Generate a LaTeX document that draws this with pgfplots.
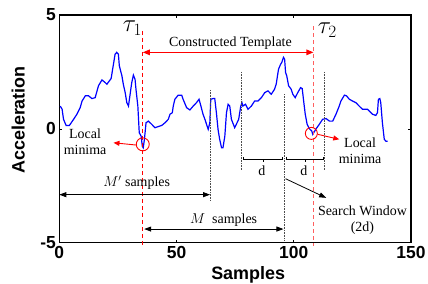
\documentclass[border=0pt]{standalone}
\usepackage{fontspec}
\setmainfont{Liberation Serif}
\setsansfont{Liberation Sans}
\usepackage{pgfplots}
\pgfplotsset{compat=1.18}
\usetikzlibrary{arrows.meta}
\definecolor{pinkred}{RGB}{255,95,95}
\tikzset{ann/.style={font=\fontsize{14}{16}\selectfont, inner sep=1bp}}
\begin{document}
\begin{tikzpicture}
\begin{axis}[
 scale only axis, width=351.7bp, height=227.7bp,
 xmin=0,xmax=150,ymin=-5,ymax=5,
 xtick={0,50,100,150}, xticklabels={0,50,100,150},
 ytick={-5,0,5}, yticklabels={-5,0,5},
 tick align=inside, major tick length=3bp,
 tick label style={font=\fontsize{17.5}{17.5}\selectfont\sffamily\bfseries},
 axis line style={line width=1.1bp},
 tick style={line width=0.6bp,black},
 xlabel={Samples}, ylabel={Acceleration},
 label style={font=\fontsize{18}{18}\selectfont\sffamily\bfseries},
 xlabel style={at={(axis description cs:0.537,-0.162)},anchor=base},
 ylabel style={at={(axis description cs:-0.117,0.539)},anchor=center},
 clip=false,
]
% signal
\addplot[blue, line width=1.2bp] coordinates {
(0.4,1.0)(1.2,0.86)(1.8,0.42)(2.9,0.15)(4.3,0.15)(6.1,0.42)(7.5,0.64)(8.9,0.93)(9.7,1.22)(11.1,1.45)(12.5,1.45)(13.9,1.33)(15.3,1.37)(16.7,1.89)(18.2,2.15)(19.6,2.03)(20.3,1.96)(21.0,2.06)(22.1,2.21)(23.1,2.84)(23.8,3.28)(24.5,3.36)(25.2,3.28)(25.6,2.77)(26.7,2.33)(27.3,1.96)(28.1,1.59)(28.8,1.15)(29.5,1.00)(30.2,1.52)(30.9,2.03)(31.6,2.36)(32.3,2.18)(32.7,1.74)(33.5,1.00)(34.1,-0.17)(34.9,-0.32)(35.4,-0.76)(35.8,-0.83)(36.3,-0.46)(37.0,0.27)(38.0,0.34)(39.4,0.2)(40.8,0.05)(42.2,0.1)(43.7,0.15)(45.1,0.27)(46.5,0.42)(47.2,0.64)(48.2,0.71)(48.6,1.0)(49.3,1.3)(50.7,1.48)(52.2,1.48)(52.8,1.3)(54.3,0.93)(55.7,0.83)(57.1,1.0)(58.5,1.15)(59.6,1.3)(60.4,1.0)(61.3,0.64)(62.1,0.42)(62.8,0.2)(63.5,-0.02)(64.2,0.27)(64.6,1.3)(65.6,1.33)(66.3,1.33)(67.0,0.71)(67.7,-0.02)(68.4,-0.46)(69.2,-0.83)(69.8,-0.83)(70.6,-0.32)(71.3,0.71)(72.0,1.08)(72.7,1.0)(73.4,0.42)(74.8,0.05)(75.5,0.2)(76.5,0.42)(77.4,1.0)(77.9,1.15)(78.3,1.0)(79.4,1.08)(80.5,0.86)(81.9,1.0)(83.3,1.22)(84.7,1.22)(86.2,1.37)(87.6,1.59)(89.0,1.67)(90.4,1.52)(91.8,1.74)(92.5,1.96)(93.5,2.62)(94.4,2.84)(94.9,2.92)(95.6,3.14)(96.1,3.06)(96.5,2.48)(97.0,2.33)(97.8,1.89)(98.9,1.74)(99.6,1.52)(100.6,1.37)(101.7,1.59)(102.9,1.81)(103.6,1.77)(104.3,1.15)(104.9,0.64)(105.7,0.2)(106.7,0.0)(107.7,-0.1)(108.1,-0.24)(109.5,0.0)(110.9,0.2)(112.3,0.42)(113.8,0.45)(115.2,0.34)(116.6,0.34)(118.0,0.64)(119.4,1.0)(120.1,1.22)(121.6,1.48)(122.5,1.45)(123.7,1.3)(125.1,1.22)(126.5,1.15)(127.9,1.0)(129.3,0.86)(131.5,0.86)(132.2,0.78)(133.6,0.64)(135.0,0.59)(135.7,0.71)(136.1,1.3)(136.7,1.33)(137.1,1.15)(137.8,0.27)(138.6,-0.46)(139.3,-0.54)(140.0,-0.54)
};
% tau lines
\addplot[red, line width=0.8bp, dash pattern=on 4bp off 3bp] coordinates {(35.6,4.3)(35.6,-5.15)};
\addplot[pinkred, line width=1.2bp, dash pattern=on 4bp off 3bp] coordinates {(108.4,4.5)(108.4,-5.15)};
% dotted verticals
\addplot[black!70, line width=0.6bp, densely dotted] coordinates {(64.3,1.71)(64.3,-3.15)};
\addplot[black!70, line width=0.6bp, densely dotted] coordinates {(77.6,2.5)(77.6,-1.78)};
\addplot[black!70, line width=0.6bp, densely dotted] coordinates {(96.0,1.52)(96.0,-4.87)};
\addplot[black!70, line width=0.6bp, densely dotted] coordinates {(113.0,2.5)(113.0,-1.78)};
% circles
\addplot[red, only marks, mark=o, mark size=6.5bp, mark options={line width=0.9bp}] coordinates {(35.6,-0.68)};
\addplot[red, only marks, mark=o, mark size=6bp, mark options={line width=0.9bp}] coordinates {(107.5,-0.2)};
% labels
\node[inner sep=0pt] at (axis cs:31.2,4.43) {\fontsize{23}{23}\selectfont$\tau_1$};
\node[inner sep=0pt] at (axis cs:114.3,4.34) {\fontsize{23}{23}\selectfont$\tau_2$};
\node[ann] at (axis cs:73,3.78) {Constructed Template};
\draw[red, line width=1.1bp, {Triangle[length=7bp,width=5.5bp]}-{Triangle[length=7bp,width=5.5bp]}] (axis cs:35.6,3.36) -- (axis cs:108.4,3.36);
% local minima
\node[ann, align=center] at (axis cs:11,-0.55) {Local\\minima};
\draw[red, line width=0.9bp, -{Triangle[length=6bp,width=5bp]}] (axis cs:32.7,-0.71) -- (axis cs:23.1,-0.61);
\node[ann, align=center] at (axis cs:128.3,-0.95) {Local\\minima};
\draw[red, line width=0.9bp, -{Triangle[length=6bp,width=5bp]}] (axis cs:110.2,-0.24) -- (axis cs:119.4,-0.46);
% d brackets
\draw[black, line width=0.5bp] (axis cs:78.3,-1.22) -- (axis cs:78.3,-1.34) -- (axis cs:95.3,-1.34) -- (axis cs:95.3,-1.22);
\draw[black, line width=0.5bp] (axis cs:86.8,-1.34) -- (axis cs:86.8,-1.44);
\draw[black, line width=0.5bp] (axis cs:96.8,-1.22) -- (axis cs:96.8,-1.34) -- (axis cs:112.6,-1.34) -- (axis cs:112.6,-1.22);
\draw[black, line width=0.5bp] (axis cs:104.7,-1.34) -- (axis cs:104.7,-1.44);
\node[ann] at (axis cs:86.4,-1.86) {d};
\node[ann] at (axis cs:104.3,-1.86) {d};
% search window
\draw[black, line width=0.8bp, -{Triangle[length=7bp,width=5bp]}] (axis cs:96.5,-2.19) -- (axis cs:113.8,-3.03);
\node[ann, align=center] at (axis cs:129.3,-4.0) {Search Window\\(2d)};
% M' samples
\node[ann] at (axis cs:33,-2.37) {$M'$ samples};
\draw[black, line width=0.8bp, {Triangle[length=7bp,width=5bp]}-{Triangle[length=7bp,width=5bp]}] (axis cs:0,-2.89) -- (axis cs:64.3,-2.89);
% M samples
\node[ann] at (axis cs:70.1,-4.0) {$M$~~samples};
\draw[black, line width=0.8bp, {Triangle[length=7bp,width=5bp]}-{Triangle[length=7bp,width=5bp]}] (axis cs:36.2,-4.4) -- (axis cs:95.6,-4.4);
\end{axis}
\pgfresetboundingbox
\path ([shift={(-59.3bp,-40.3bp)}]current axis.south west) rectangle ([shift={(17bp,15bp)}]current axis.north east);
\end{tikzpicture}
\end{document}
